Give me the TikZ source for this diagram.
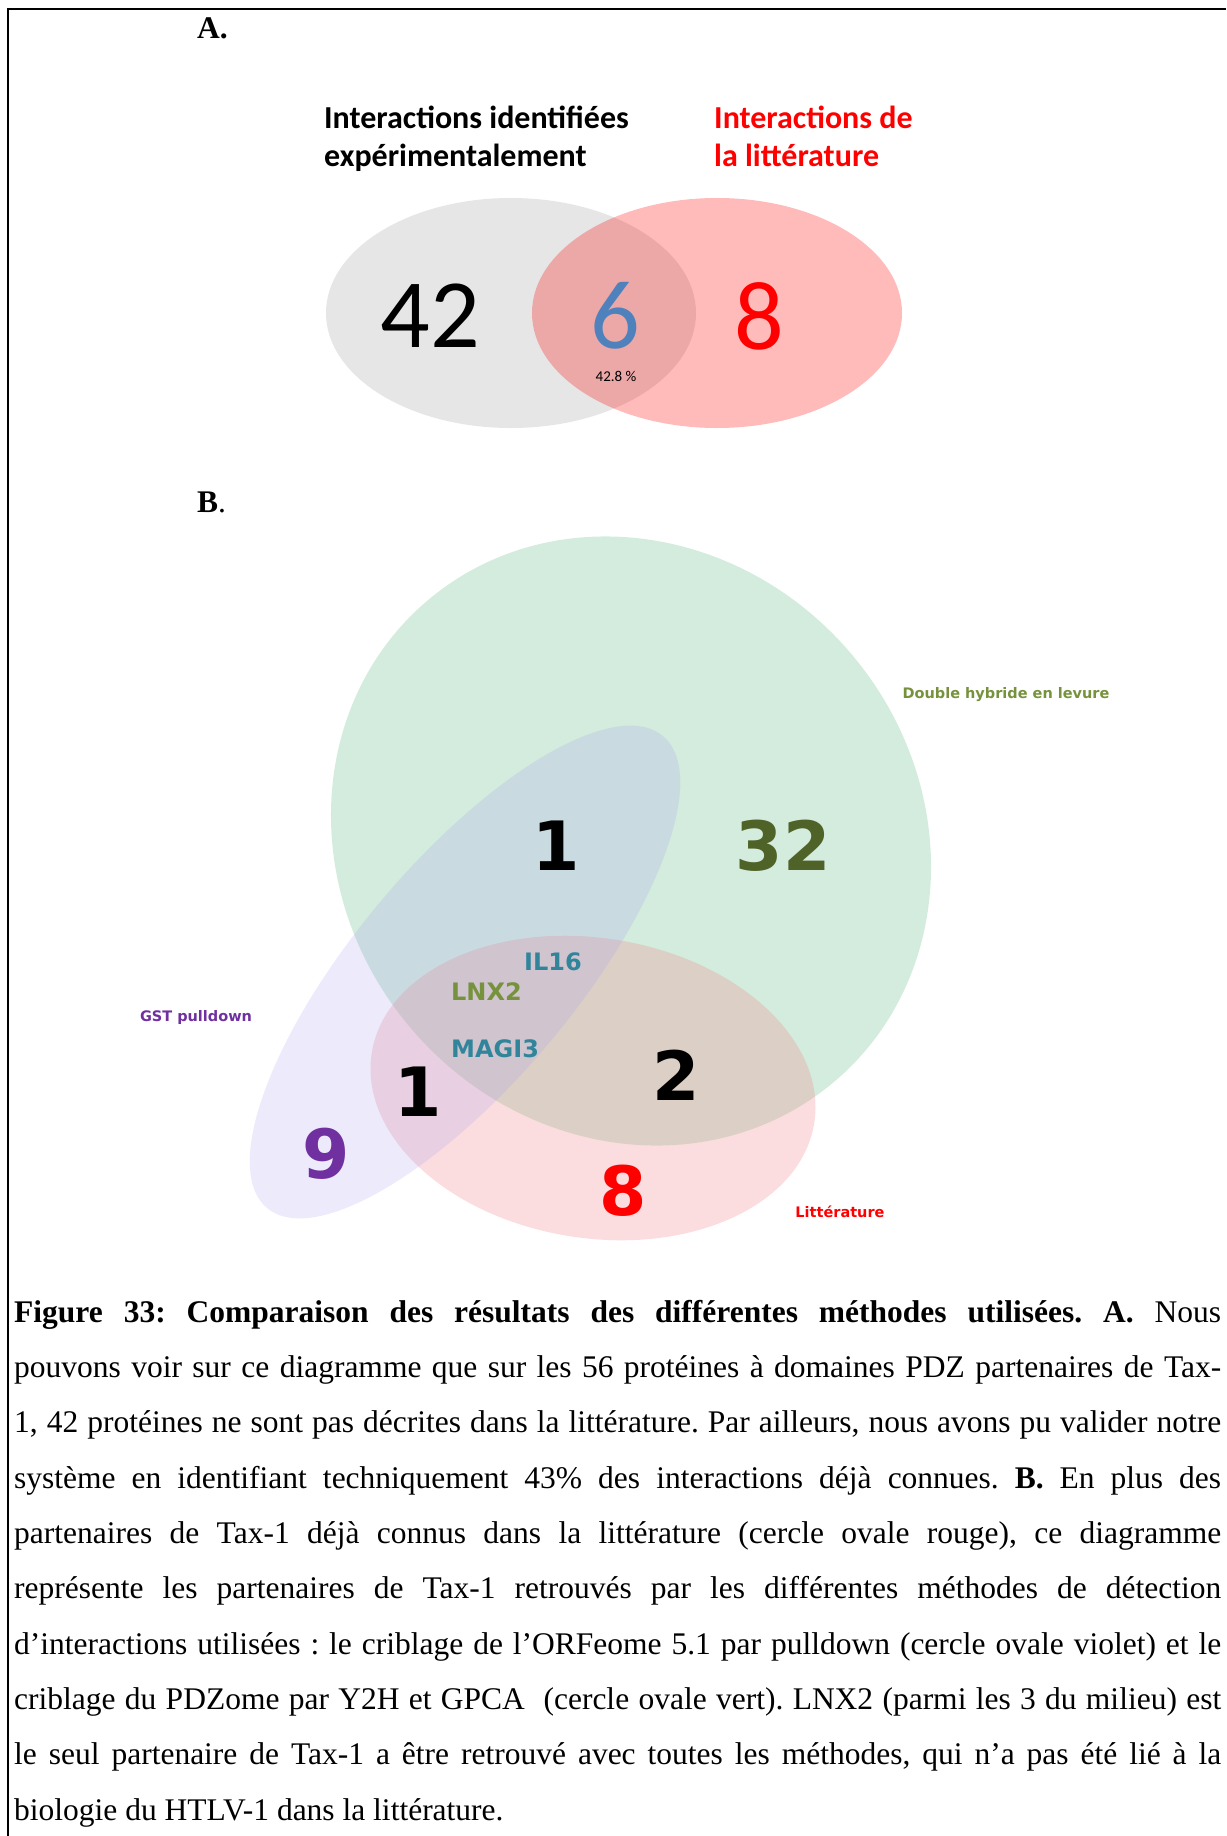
\documentclass[tikz,border=0pt]{standalone}
\usepackage{fontspec}
\setmainfont{Liberation Serif}
\newfontfamily\calibri{Carlito}
\newfontfamily\verdana{DejaVu Sans}
\usepackage{tikz}

\definecolor{grisA}{RGB}{230,230,230}
\definecolor{bleuA}{RGB}{79,129,189}
\definecolor{vertY}{RGB}{83,183,123}
\definecolor{rougeL}{RGB}{243,123,131}
\definecolor{violetP}{RGB}{169,160,241}
\definecolor{txtolive}{RGB}{118,146,60}
\definecolor{txtolivefonce}{RGB}{79,98,40}
\definecolor{txtviolet}{RGB}{112,48,160}
\definecolor{txtteal}{RGB}{49,133,155}

\begin{document}
\begin{tikzpicture}[x=1pt, y=-1pt,
      lettre/.style={anchor=base west, inner sep=0pt, font=\fontsize{31.5}{36}\selectfont\bfseries},
      titreA/.style={anchor=base west, inner sep=0pt, font=\calibri\bfseries\fontsize{32}{38}\selectfont},
      chiffreA/.style={inner sep=0pt, font=\calibri\fontsize{98}{98}\selectfont},
      chiffreB/.style={inner sep=0pt, font=\verdana\bfseries\fontsize{68}{68}\selectfont},
      geneB/.style={inner sep=0pt, text=txtteal, font=\verdana\bfseries\fontsize{24}{28}\selectfont},
      etiqB/.style={inner sep=0pt, font=\verdana\bfseries\fontsize{14.5}{17}\selectfont},
      legende/.style={anchor=north west, inner sep=0pt, text width=1207pt, align=justify,
        font=\fontsize{31.5}{55.3}\selectfont}
    ]
    \useasboundingbox (0,0) rectangle (1226,1836);
    \fill[white] (0,0) rectangle (1226,1836);
    % cadre
    \draw[line width=2pt] (1226,9) -- (7.5,9) -- (7.5,1836);

    % A. deux ensembles
    \node[lettre] (A) at (197,39) {A.};
    \fill[grisA] (511,313) ellipse [x radius=185, y radius=115];
    \fill[red, fill opacity=0.27] (717,313) ellipse [x radius=185, y radius=115];
    \node[titreA] (exp1) at (324,128) {Interactions identifiées};
    \node[titreA] (exp2) at (324,166) {expérimentalement};
    \node[titreA, text=red] (lit1) at (714,128) {Interactions de};
    \node[titreA, text=red] (lit2) at (714,166) {la littérature};
    \node[chiffreA] (n42) at (430,316) {42};
    \node[chiffreA, text=bleuA] (n6) at (615,316) {6};
    \node[chiffreA, text=red] (n8) at (759,316) {8};
    \node[inner sep=0pt, font=\calibri\fontsize{15}{18}\selectfont] (pct) at (616,376) {42.8 \%};

    % B. trois methodes
    \node[lettre] (B) at (197,512) {B\mdseries.};
    \fill[vertY, fill opacity=.25, rotate around={40:(631,841)}] (631,841) ellipse [x radius=289, y radius=315];
    \fill[rougeL, fill opacity=.25, rotate around={-9:(593,1088)}] (593,1088) ellipse [x radius=224, y radius=150];
    \fill[violetP, fill opacity=.22, rotate around={50:(465,972)}] (465,972) ellipse [x radius=308, y radius=110];
    \foreach \nom/\val/\px/\py/\coul in {y1/1/556/846/black, y32/32/783/846/txtolivefonce,
        c2/2/676/1075/black, p1/1/418/1092/black, p9/9/326/1154/txtviolet, l8/8/623/1191/red}{
      \node[chiffreB, text=\coul] (\nom) at (\px,\py) {\val};
    }
    \node[geneB] (il16) at (553,962) {IL16};
    \node[geneB, anchor=west, text=txtolive] (lnx2) at (451,992) {LNX2};
    \node[geneB, anchor=west] (magi3) at (451,1049) {MAGI3};
    \node[etiqB, text=txtolive] (y2h) at (1006,695) {Double hybride en levure};
    \node[etiqB, text=txtviolet] (gst) at (196,1017) {GST pulldown};
    \node[etiqB, text=red] (litB) at (840,1212) {Littérature};

    % legende
    \node[legende] (leg) at (14,1300) {\noindent\frenchspacing\tolerance=10000\hbadness=10000\relax
      \textbf{Figure 33: Comparaison des résultats des différentes méthodes utilisées. A.} Nous\linebreak
      pouvons voir sur ce diagramme que sur les 56 protéines à domaines PDZ partenaires de Tax-\linebreak
      1, 42 protéines ne sont pas décrites dans la littérature. Par ailleurs, nous avons pu valider notre\linebreak
      système en identifiant techniquement 43\% des interactions déjà connues. \textbf{B.} En plus des\linebreak
      partenaires de Tax-1 déjà connus dans la littérature (cercle ovale rouge), ce diagramme\linebreak
      représente les partenaires de Tax-1 retrouvés par les différentes méthodes de détection\linebreak
      d’interactions utilisées : le criblage de l’ORFeome 5.1 par pulldown (cercle ovale violet) et le\linebreak
      criblage du PDZome par Y2H et GPCA\ \ (cercle ovale vert). LNX2 (parmi les 3 du milieu) est\linebreak
      le seul partenaire de Tax-1 a être retrouvé avec toutes les méthodes, qui n’a pas été lié à la\linebreak
      biologie du HTLV-1 dans la littérature.};
  \end{tikzpicture}
\end{document}
